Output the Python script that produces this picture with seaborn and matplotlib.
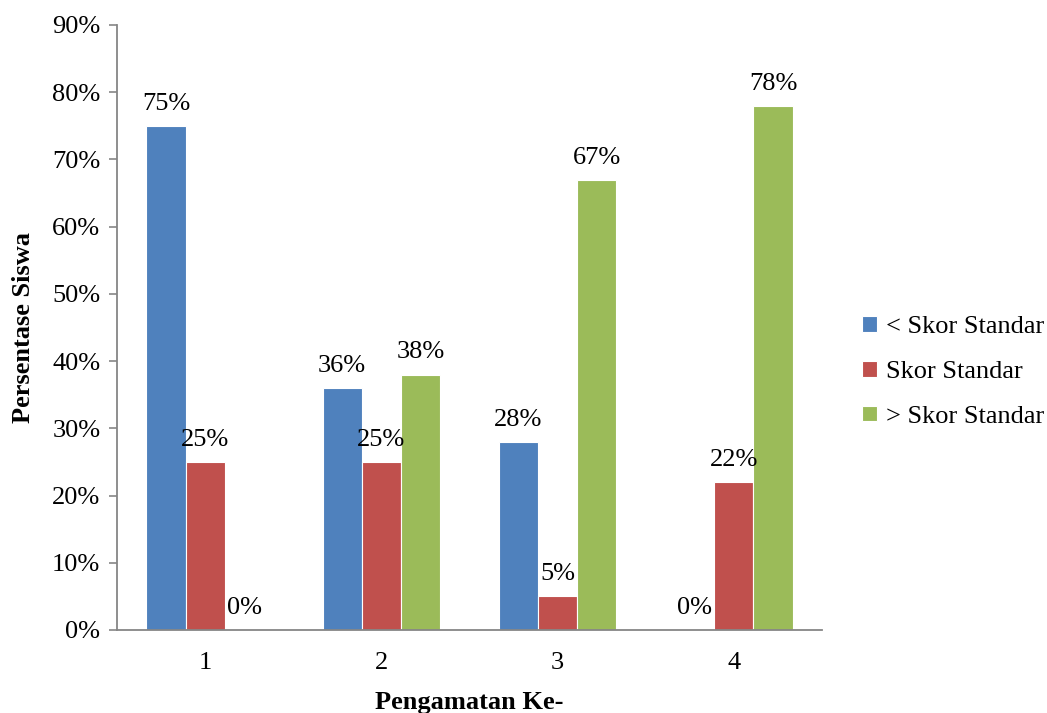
import matplotlib
matplotlib.use("Agg")
import matplotlib.pyplot as plt
import seaborn as sns
import pandas as pd
from matplotlib.ticker import FuncFormatter, FixedLocator

categories = ["1", "2", "3", "4"]
series_names = ["< Skor Standar", "Skor Standar", "> Skor Standar"]
below_standard = [0.75, 0.36, 0.28, 0.00]
at_standard = [0.25, 0.25, 0.05, 0.22]
above_standard = [0.00, 0.38, 0.67, 0.78]
colors = ["#4F81BD", "#C0504D", "#9BBB59"]

rows = []
for name, vals in zip(series_names, [below_standard, at_standard, above_standard]):
    for c, v in zip(categories, vals):
        rows.append({"cat": c, "series": name, "value": v})
df = pd.DataFrame(rows)

sns.set_theme(style="white")
plt.rcParams["font.family"] = ["Liberation Serif", "DejaVu Serif"]
plt.rcParams["text.color"] = "black"
plt.rcParams["axes.labelcolor"] = "black"
plt.rcParams["xtick.color"] = "black"
plt.rcParams["ytick.color"] = "black"

FS = 19

fig = plt.figure(figsize=(10.47, 7.13), dpi=100)
ax = fig.add_axes([117/1047, 1-630/713, (822-117)/1047, (630-25)/713])

sns.barplot(data=df, x="cat", y="value", hue="series", palette=colors,
            width=0.667, saturation=1, ax=ax, errorbar=None, gap=0,
            linewidth=0.8, edgecolor="white")

for cont in ax.containers:
    for bar in cont:
        h = bar.get_height()
        ax.annotate(f"{h*100:.0f}%", (bar.get_x() + bar.get_width()/2, h),
                    xytext=(0, 8), textcoords="offset points",
                    ha="center", va="bottom", fontsize=FS, color="black")

ax.set_xlim(-0.5, 3.5)
ax.set_ylim(0, 0.9)
ax.set_yticks([i/10 for i in range(10)])
ax.yaxis.set_major_formatter(FuncFormatter(lambda v, p: f"{v*100:.0f}%"))
ax.xaxis.set_minor_locator(FixedLocator([-0.5, 0.5, 1.5, 2.5, 3.5]))
ax.tick_params(axis="x", which="major", length=0, labelsize=FS, pad=16, labelcolor="black")
ax.tick_params(axis="x", which="minor", length=6, width=1.2, color="#868686", direction="out")
ax.tick_params(axis="y", which="major", length=6, width=1.2, color="#868686",
               direction="out", labelsize=FS, labelcolor="black", left=True, pad=6)

for s in ["top", "right"]:
    ax.spines[s].set_visible(False)
for s in ["left", "bottom"]:
    ax.spines[s].set_color("#868686")
    ax.spines[s].set_linewidth(1.3)

ax.set_xlabel("Pengamatan Ke-", fontsize=FS, fontweight="bold", labelpad=12, color="black")
ax.set_ylabel("Persentase Siswa", fontsize=FS, fontweight="bold", labelpad=12, color="black")

leg = ax.legend(loc="center left", bbox_to_anchor=((862-117)/705, (630-372)/605),
                frameon=False, borderaxespad=0, borderpad=0,
                fontsize=FS, handlelength=0.55, handleheight=0.55, handletextpad=0.35,
                labelspacing=0.85)
for t in leg.get_texts():
    t.set_color("black")

fig.savefig("out.png", dpi=100)
